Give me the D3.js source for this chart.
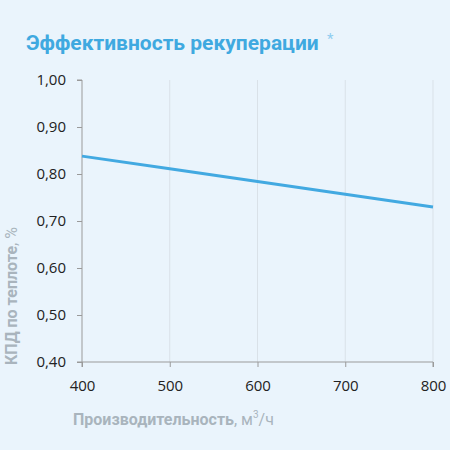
<!DOCTYPE html>
<html><head><meta charset="utf-8">
<script src="https://cdn.jsdelivr.net/npm/d3@7"></script>
<style>
html,body{margin:0;padding:0;background:#eaf4fc;}
svg{display:block;}
</style></head>
<body>
<svg id="c" width="450" height="450"></svg>
<script>
const title = "Эффективность рекуперации";
const flow = [400, 500, 600, 700, 800];
const efficiency = [0.838, 0.811, 0.784, 0.757, 0.730];
const yTicks = [0.4, 0.5, 0.6, 0.7, 0.8, 0.9, 1.0];
const xTicks = [400, 500, 600, 700, 800];

const svg = d3.select("#c");
svg.append("rect").attr("width",450).attr("height",450).attr("fill","#eaf4fc");
const m = {l:82, r:433, t:80, b:362};
const x = d3.scaleLinear().domain([400,800]).range([m.l, m.r]);
const y = d3.scaleLinear().domain([0.4,1.0]).range([m.b, m.t]);

// vertical grid
svg.append("g").selectAll("line").data(xTicks.slice(1)).join("line")
  .attr("x1",d=>x(d)).attr("x2",d=>x(d)).attr("y1",m.t).attr("y2",m.b)
  .attr("stroke","#d9e1e8").attr("stroke-width",1);

const fmt = d => d3.format(".2f")(d).replace(".", ",");
const font = "'Open Sans', sans-serif";

const ya = svg.append("g").attr("transform",`translate(${m.l},0)`)
  .call(d3.axisLeft(y).tickValues(yTicks).tickFormat(fmt).tickSize(5).tickPadding(11));
ya.select(".domain").attr("stroke","#9a9a9a").attr("d",`M-5,${m.t}H0V${m.b}H-5`);
ya.selectAll(".tick line").attr("stroke","#9a9a9a");
ya.selectAll("text").attr("fill","#222").style("font-family",font).style("font-size","15px");

const xa = svg.append("g").attr("transform",`translate(0,${m.b})`)
  .call(d3.axisBottom(x).tickValues(xTicks).tickFormat(d3.format("d")).tickSize(5).tickPadding(13));
xa.select(".domain").attr("stroke","#9a9a9a").attr("d",`M${m.l},5V0H${m.r}V5`);
xa.selectAll(".tick line").attr("stroke","#9a9a9a");
xa.selectAll("text").attr("fill","#222").style("font-family",font).style("font-size","15px");

// line
const data = flow.map((f,i)=>({f, v:efficiency[i]}));
svg.append("path").datum(data)
  .attr("fill","none").attr("stroke","#42a9e1").attr("stroke-width",3)
  .attr("d", d3.line().x(d=>x(d.f)).y(d=>y(d.v)));

// title
svg.append("text").attr("x",26).attr("y",50)
  .style("font-family","Roboto, sans-serif").style("font-size","21px").style("font-weight","bold")
  .attr("fill","#3fa9e0").text(title);
svg.append("text").attr("x",327).attr("y",44)
  .style("font-family","Roboto, sans-serif").style("font-size","15px")
  .attr("fill","#8fcdf0").text("*");

// x title
const xt = svg.append("text").attr("x",73).attr("y",425)
  .style("font-family","Roboto, sans-serif").style("font-size","16px").attr("fill","#a9b4bd");
xt.append("tspan").style("font-weight","bold").text("Производительность");
xt.append("tspan").text(", м");
xt.append("tspan").attr("dy",-7).style("font-size","10px").text("3");
xt.append("tspan").attr("dy",7).text("/ч");

// y title
const yt = svg.append("text").attr("transform","translate(17,365) rotate(-90)")
  .style("font-family","Roboto, sans-serif").style("font-size","16px").attr("fill","#a9b4bd");
yt.append("tspan").style("font-weight","bold").text("КПД по теплоте");
yt.append("tspan").text(", %");
</script>
</body></html>
